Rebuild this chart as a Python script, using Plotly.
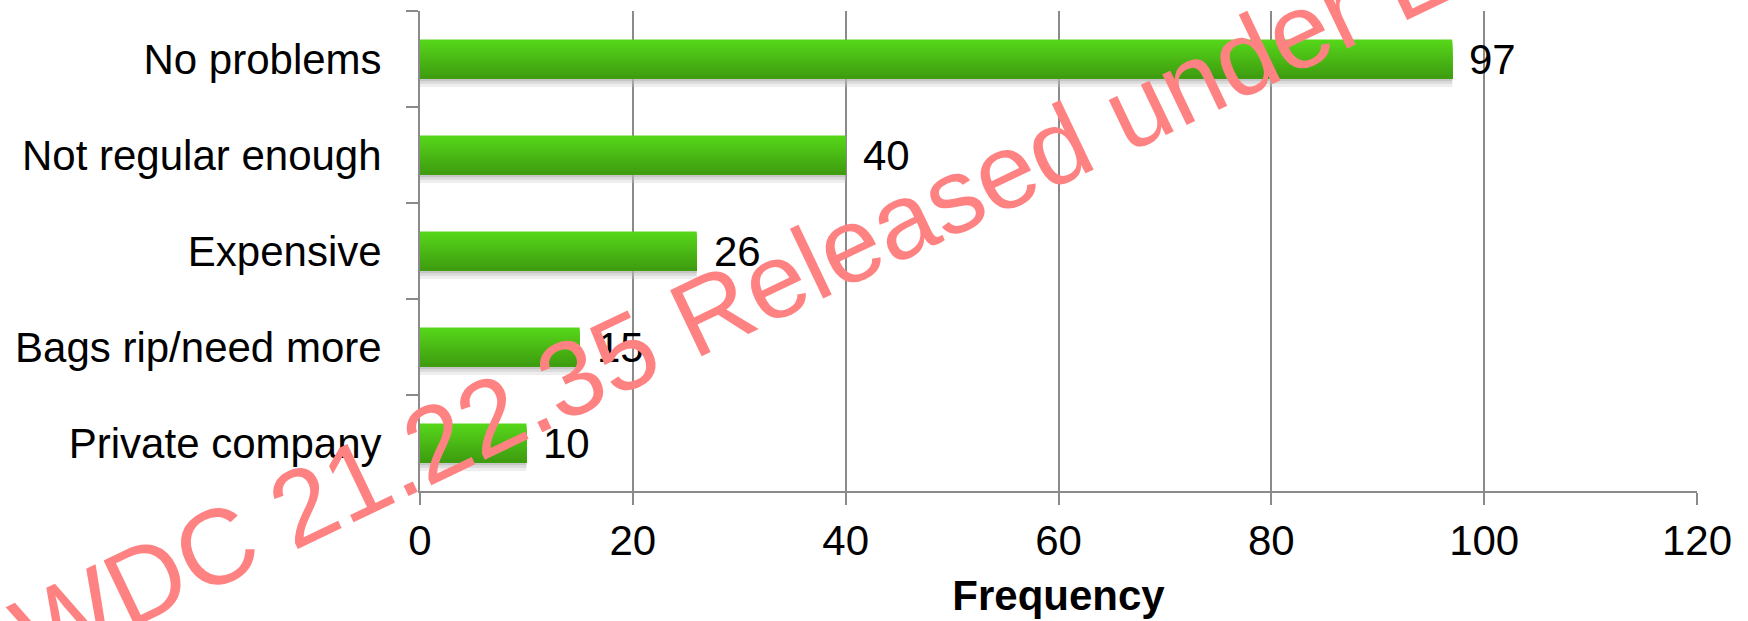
import plotly.graph_objects as go

# Survey responses: problems with the collection service
categories = ["No problems", "Not regular enough", "Expensive",
              "Bags rip/need more", "Private company"]
counts = [97, 40, 26, 15, 10]
x_ticks = [0, 20, 40, 60, 80, 100, 120]

FONT = "Liberation Sans, Arial, sans-serif"
GRID = "#8a8a8a"

BAR_W = 0.406          # bar thickness as a fraction of the category band
N_SLICES = 24          # layers used to fake a vertical gradient
TOP_RGB = (86, 214, 26)
BOT_RGB = (62, 156, 16)

fig = go.Figure()

# soft drop shadow under each bar
SH_H = 0.088
shadow = [(0.30, 200), (0.35, 185), (0.45, 170)]
for i, (a, g) in enumerate(shadow):
    fig.add_trace(go.Bar(
        x=counts, y=categories, orientation="h",
        offset=BAR_W / 2 - 0.01, width=SH_H * (1 - i / len(shadow)) + 0.01,
        marker=dict(color=f"rgba({g},{g},{g},{a})", line=dict(width=0)),
        hoverinfo="skip", showlegend=False,
    ))

# gradient bars: each layer starts a little lower and runs to the bar's bottom edge,
# so later (darker) layers cover the lower part of the earlier ones without seams
sw = BAR_W / N_SLICES
for i in range(N_SLICES):
    t = i / (N_SLICES - 1)
    r, g, b = (round(TOP_RGB[k] + (BOT_RGB[k] - TOP_RGB[k]) * t) for k in range(3))
    fig.add_trace(go.Bar(
        x=counts, y=categories, orientation="h",
        offset=-BAR_W / 2 + i * sw, width=BAR_W - i * sw,
        marker=dict(color=f"rgb({r},{g},{b})", line=dict(width=0)),
        hoverinfo="skip", showlegend=False,
    ))

# value labels to the right of each bar
annotations = [
    dict(x=v, y=c, xref="x", yref="y", text=str(v), showarrow=False,
         xanchor="left", yanchor="middle", xshift=15,
         font=dict(family=FONT, size=42, color="black"))
    for c, v in zip(categories, counts)
]

# diagonal release stamp
annotations.append(dict(
    x=0.3673, y=0.552, xref="paper", yref="paper",
    text="WDC 21.22.35 Released under LGOIMA", showarrow=False,
    textangle=-25.5, xanchor="center", yanchor="middle",
    font=dict(family=FONT, size=106.5, color="#ff8282"),
))

fig.update_layout(
    width=1748, height=621,
    margin=dict(l=420, r=51, t=11, b=130),
    paper_bgcolor="white", plot_bgcolor="white",
    barmode="overlay", showlegend=False, hovermode=False,
    font=dict(family=FONT, size=42, color="black"),
    annotations=annotations,
)

fig.update_xaxes(
    range=[0, 120], tickvals=x_ticks, ticktext=[str(t) for t in x_ticks],
    showgrid=True, gridcolor=GRID, gridwidth=2,
    showline=True, linecolor=GRID, linewidth=2,
    ticks="outside", ticklen=12, tickwidth=2, tickcolor=GRID,
    zeroline=False, fixedrange=True,
    tickfont=dict(family=FONT, size=42, color="black"),
    title=dict(text="<b>Frequency</b>", standoff=17,
               font=dict(family=FONT, size=42, color="black")),
)

fig.update_yaxes(
    type="category", categoryorder="array", categoryarray=categories,
    autorange="reversed", tickson="boundaries",
    showgrid=False, zeroline=False,
    showline=True, linecolor=GRID, linewidth=2,
    ticks="outside", ticklen=12, tickwidth=2, tickcolor=GRID,
    ticklabelstandoff=28, fixedrange=True,
    tickfont=dict(family=FONT, size=42, color="black"),
)

fig.write_html("out.html")
